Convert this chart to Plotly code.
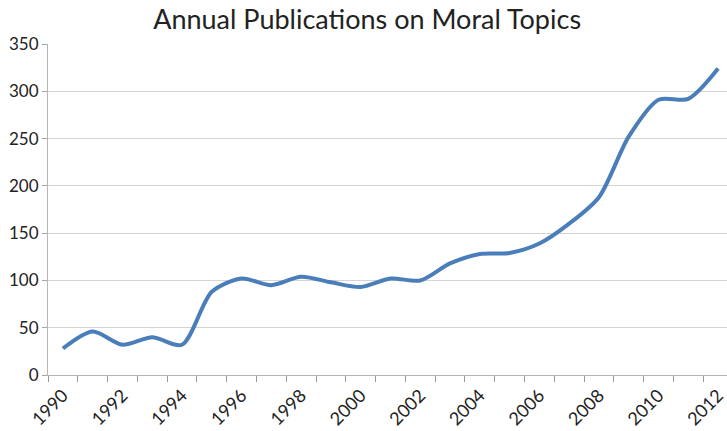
import plotly.graph_objects as go

years = list(range(1990, 2013))
publications = [28, 46, 32, 40, 32, 88, 102, 95, 104, 98, 93, 102, 100, 118, 128, 129,
                139, 160, 188, 252, 291, 292, 324]
x_tick_labels = [str(y) for y in range(1990, 2013, 2)]
y_tick_vals = list(range(0, 351, 50))
boundaries = [y - 0.5 for y in years]

fig = go.Figure()
fig.add_trace(go.Scatter(
    x=years, y=publications, mode="lines",
    line=dict(color="#4A7EBB", width=4, shape="spline", smoothing=0.8),
    cliponaxis=False, showlegend=False, hoverinfo="x+y",
))
fig.add_trace(go.Scatter(
    x=[years[0]], y=[publications[0]], mode="markers", xaxis="x2", yaxis="y",
    marker=dict(opacity=0), showlegend=False, hoverinfo="skip",
))

x_range = [1989.5, 2012.3]
fig.update_layout(
    width=727, height=431,
    margin=dict(l=48, r=0, t=44, b=56),
    paper_bgcolor="white", plot_bgcolor="white",
    font=dict(family="Lato, Open Sans, sans-serif", color="#222222"),
    title=dict(text="Annual Publications on Moral Topics", x=0.505, xanchor="center",
               y=0.955, yanchor="middle", font=dict(size=27, color="#222222")),
    xaxis=dict(
        range=x_range, automargin=False,
        tickmode="array", tickvals=[int(t) for t in x_tick_labels], ticktext=x_tick_labels,
        tickangle=-45, tickfont=dict(size=18), ticks="", ticklabeloverflow="allow",
        ticklabelstandoff=2,
        showgrid=False, showline=True, linecolor="#b5b5b5", linewidth=1,
        zeroline=False,
    ),
    xaxis2=dict(
        overlaying="x", anchor="y", side="bottom", range=x_range, automargin=False,
        tickmode="array", tickvals=boundaries, showticklabels=False,
        ticks="outside", ticklen=6, tickcolor="#999999", tickwidth=1,
        showgrid=False, showline=False, zeroline=False,
    ),
    yaxis=dict(
        range=[0, 350], tickvals=y_tick_vals, tickfont=dict(size=17), automargin=False,
        ticks="outside", ticklen=5, tickcolor="#a6a6a6",
        showgrid=True, gridcolor="#d4d4d4", gridwidth=1.2,
        showline=True, linecolor="#b5b5b5", linewidth=1, zeroline=False,
    ),
)

fig.write_html("out.html")
